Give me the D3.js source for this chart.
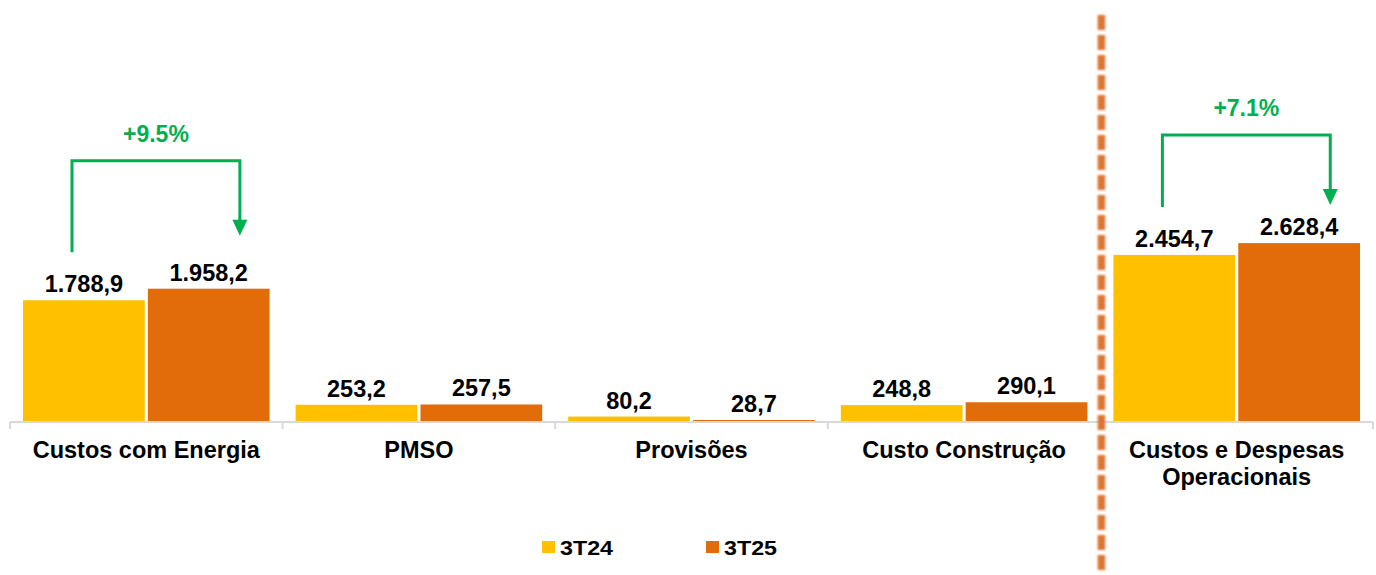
<!DOCTYPE html>
<html>
<head>
<meta charset="utf-8">
<script src="https://cdn.jsdelivr.net/npm/d3@7/dist/d3.min.js"></script>
<style>
  html, body { margin: 0; padding: 0; background: #fff; }
  svg { display: block; font-family: "Liberation Sans", Arial, sans-serif; }
</style>
</head>
<body>
<svg id="chart" width="1376" height="575"></svg>
<script>
// Custos operacionais por trimestre (R$ milhões)
const categories = ["Custos com Energia", "PMSO", "Provisões", "Custo Construção", "Custos e Despesas|Operacionais"];
const series = ["3T24", "3T25"];
const values3T24 = [1788.9, 253.2, 80.2, 248.8, 2454.7];
const values3T25 = [1958.2, 257.5, 28.7, 290.1, 2628.4];
const valueLabels3T24 = ["1.788,9", "253,2", "80,2", "248,8", "2.454,7"];
const valueLabels3T25 = ["1.958,2", "257,5", "28,7", "290,1", "2.628,4"];
// Variações destacadas com colchete
const variationCats = ["Custos com Energia", "Custos e Despesas|Operacionais"];
const variationLabels = ["+9.5%", "+7.1%"];

const colors = { "3T24": "#FFC000", "3T25": "#E36C0A" };
const green = "#00B050";

const svg = d3.select("#chart");
const baseY = 422;

const x = d3.scaleBand().domain(categories).range([10, 1373]).paddingInner(0).paddingOuter(0);
const xs = d3.scaleBand().domain(series).range([13, x.bandwidth() - 13]).paddingInner(0.025);
const y = d3.scaleLinear().domain([0, 6200]).range([baseY, 0]);

const data = categories.map((c, i) => ({
  cat: c,
  items: [
    { s: "3T24", v: values3T24[i], lbl: valueLabels3T24[i] },
    { s: "3T25", v: values3T25[i], lbl: valueLabels3T25[i] }
  ]
}));

// Barras
const groups = svg.selectAll("g.grp").data(data).join("g")
  .attr("class", "grp")
  .attr("transform", d => `translate(${x(d.cat)},0)`);

groups.selectAll("rect").data(d => d.items).join("rect")
  .attr("x", d => xs(d.s))
  .attr("width", xs.bandwidth())
  .attr("y", d => y(d.v))
  .attr("height", d => baseY - y(d.v))
  .attr("fill", d => colors[d.s]);

groups.selectAll("text.val").data(d => d.items).join("text")
  .attr("class", "val")
  .attr("x", d => xs(d.s) + xs.bandwidth() / 2)
  .attr("y", d => y(d.v) - 8)
  .attr("text-anchor", "middle")
  .attr("font-size", 23.5)
  .attr("font-weight", "bold")
  .attr("fill", "#000")
  .text(d => d.lbl);

// Eixo das categorias
const axisG = svg.append("g").attr("transform", `translate(0,${baseY})`);
axisG.append("line")
  .attr("x1", x.range()[0]).attr("x2", x.range()[1])
  .attr("y1", 0).attr("y2", 0)
  .attr("stroke", "#d9d9d9").attr("stroke-width", 2);
const tickPos = categories.map(c => x(c)).concat([x.range()[1]]);
axisG.selectAll("line.tick").data(tickPos).join("line")
  .attr("class", "tick")
  .attr("x1", d => d).attr("x2", d => d)
  .attr("y1", 0).attr("y2", 7)
  .attr("stroke", "#d9d9d9").attr("stroke-width", 2);

svg.selectAll("text.cat").data(categories).join("text")
  .attr("class", "cat")
  .attr("x", d => x(d) + x.bandwidth() / 2)
  .attr("y", 458)
  .attr("text-anchor", "middle")
  .attr("font-size", 23.5)
  .attr("font-weight", "bold")
  .attr("fill", "#000")
  .each(function (d) {
    const parts = d.split("|");
    const t = d3.select(this);
    parts.forEach((p, k) => {
      t.append("tspan")
        .attr("x", x(d) + x.bandwidth() / 2)
        .attr("dy", k === 0 ? 0 : 27)
        .text(p);
    });
  });

// Linha divisória tracejada
const defs = svg.append("defs");
defs.append("filter").attr("id", "soft")
  .attr("filterUnits", "userSpaceOnUse")
  .attr("x", 1080).attr("y", 0).attr("width", 50).attr("height", 575)
  .append("feGaussianBlur").attr("stdDeviation", 0.8);
const divX = x(categories[4]) + 1;
svg.append("line")
  .attr("x1", divX).attr("x2", divX)
  .attr("y1", 15).attr("y2", 575)
  .attr("stroke", "#DD7530")
  .attr("stroke-width", 7.5)
  .attr("stroke-dasharray", "15,5")
  .attr("filter", "url(#soft)");

// Colchetes de variação (deslocamentos verticais acima das barras)
const bracketLayout = [
  { start: 48, top: 128, tip: 53 },
  { start: 48, top: 108, tip: 38 }
];
variationCats.forEach((c, i) => {
  const k = categories.indexOf(c);
  const L = bracketLayout[i];
  const x1 = x(c) + xs("3T24") + 49;
  const x2 = x(c) + xs("3T25") + 92;
  const yStart = y(values3T24[k]) - L.start;
  const yTip = y(values3T25[k]) - L.tip;
  const top = y(values3T25[k]) - L.top;
  svg.append("path")
    .attr("d", `M${x1},${yStart} V${top} H${x2} V${yTip - 14}`)
    .attr("fill", "none")
    .attr("stroke", green)
    .attr("stroke-width", 3);
  svg.append("path")
    .attr("d", `M${x2 - 7.5},${yTip - 16} L${x2 + 7.5},${yTip - 16} L${x2},${yTip} Z`)
    .attr("fill", green);
  svg.append("text")
    .attr("x", (x1 + x2) / 2)
    .attr("y", top - 19)
    .attr("text-anchor", "middle")
    .attr("font-size", 23)
    .attr("font-weight", "bold")
    .attr("fill", green)
    .text(variationLabels[i]);
});

// Legenda
const legend = svg.append("g").selectAll("g").data(series).join("g")
  .attr("transform", (d, i) => `translate(${542 + i * 164},541)`);
legend.append("rect").attr("width", 13).attr("height", 12).attr("fill", d => colors[d]);
legend.append("text")
  .attr("x", 18).attr("y", 14)
  .attr("font-size", 21).attr("font-weight", "bold").attr("fill", "#000")
  .attr("textLength", 53).attr("lengthAdjust", "spacingAndGlyphs")
  .text(d => d);
</script>
</body>
</html>
